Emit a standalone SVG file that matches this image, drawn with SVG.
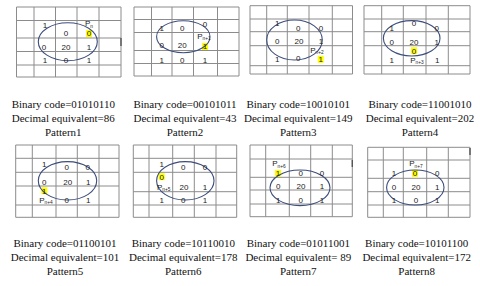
<svg xmlns="http://www.w3.org/2000/svg" width="480" height="286" viewBox="0 0 480 286">
<style>
.g{stroke:#8c8c8c;stroke-width:1;fill:none}
.t{stroke:#555;stroke-width:1.4;fill:none}
.e{stroke:#3d4d7c;stroke-width:1.1;fill:none}
.d{font-family:"Liberation Sans",Arial,sans-serif;font-size:8px;fill:#222;text-anchor:middle}
.s{font-size:4.8px}
.h{fill:#ffff00}
.l{font-family:"Liberation Serif","Times New Roman",serif;font-size:11px;fill:#111;text-anchor:middle}
</style>
<rect width="480" height="286" fill="#ffffff"/>

<g id="pattern1">
<path class="g" d="M16.5 7V77M34 7V77M55.5 7V77M77 7V77M99 7V77M121 7V77M16.5 7H121M16.5 20.5H121M16.5 38H121M16.5 51.5H121M16.5 65H121M16.5 77H121"/>
<path class="t" d="M121 38V46"/>
<rect class="h" x="86" y="30" width="6" height="7"/>
<ellipse class="e" cx="67.8" cy="41.7" rx="29.5" ry="19"/>
<text class="d" x="45" y="28">1</text><text class="d" x="89" y="26.3">P<tspan class="s" dy="1.3">n</tspan></text>
<text class="d" x="66" y="36">0</text><text class="d" x="89" y="36">0</text>
<text class="d" x="44" y="49.7">0</text><text class="d" x="66" y="49.7">20</text><text class="d" x="89" y="49.7">1</text>
<text class="d" x="45" y="63">1</text><text class="d" x="66" y="63">0</text><text class="d" x="89" y="63">1</text>
<text class="l" x="63.3" y="108">Binary code=01010110</text>
<text class="l" x="63.3" y="122">Decimal equivalent=86</text>
<text class="l" x="63.3" y="135.5">Pattern1</text>
</g>

<g id="pattern2">
<path class="g" d="M134 7V76M151.5 7V76M172 7V76M193.5 7V76M217.5 7V76M239 7V76M134 7H239M134 19.5H239M134 32.5H239M134 50.5H239M134 63.5H239M134 76H239"/>
<rect class="h" x="202" y="43" width="6" height="7"/>
<ellipse class="e" cx="183.3" cy="36.7" rx="26.7" ry="16"/>
<text class="d" x="161.7" y="31.3">1</text><text class="d" x="182.3" y="31.3">0</text><text class="d" x="205" y="27">0</text>
<text class="d" x="204" y="38.8">P<tspan class="s" dy="1.3">n+1</tspan></text>
<text class="d" x="161.7" y="48">0</text><text class="d" x="182.3" y="48">20</text><text class="d" x="205" y="49.3">1</text>
<text class="d" x="161.7" y="63">1</text><text class="d" x="182.3" y="63">0</text><text class="d" x="205" y="63">1</text>
<text class="l" x="185" y="108">Binary code=00101011</text>
<text class="l" x="185" y="122">Decimal equivalent=43</text>
<text class="l" x="185" y="135.5">Pattern2</text>
</g>

<g id="pattern3">
<path class="g" d="M250 5.7V74M266.7 5.7V74M287.3 5.7V74M309 5.7V74M332.3 5.7V74M352.5 5.7V74M250 5.7H352.5M250 19H352.5M250 31.7H352.5M250 45.7H352.5M250 65.7H352.5M250 74H352.5"/>
<rect class="h" x="317.7" y="55.8" width="6" height="7"/>
<ellipse class="e" cx="294.5" cy="40" rx="27.8" ry="20"/>
<text class="d" x="277.3" y="26.3">1</text><text class="d" x="298.3" y="31.3">0</text><text class="d" x="321" y="31.3">0</text>
<text class="d" x="277.3" y="43.7">0</text><text class="d" x="299" y="43.7">20</text><text class="d" x="321" y="43.7">1</text>
<text class="d" x="317" y="52.5">P<tspan class="s" dy="1.3">n+2</tspan></text>
<text class="d" x="277.3" y="62.3">1</text><text class="d" x="298.3" y="61.3">0</text><text class="d" x="320.7" y="62.3">1</text>
<text class="l" x="298.3" y="108">Binary code=10010101</text>
<text class="l" x="298.3" y="122">Decimal equivalent=149</text>
<text class="l" x="298.3" y="135.5">Pattern3</text>
</g>

<g id="pattern4">
<path class="g" d="M364 5.7V74M381.7 5.7V74M403.3 5.7V74M426 5.7V74M448.3 5.7V74M470 5.7V74M364 5.7H470M364 19H470M364 31.7H470M364 45.7H470M364 65.7H470M364 74H470"/>
<rect class="h" x="411" y="47.2" width="6" height="7"/>
<ellipse class="e" cx="411.7" cy="38.3" rx="28.3" ry="17.7"/>
<text class="d" x="391.7" y="31.3">1</text><text class="d" x="414" y="26.3">0</text><text class="d" x="436.7" y="31.3">0</text>
<text class="d" x="391.7" y="44.7">0</text><text class="d" x="414" y="44.7">20</text><text class="d" x="436.7" y="44.7">1</text>
<text class="d" x="414" y="53.7">0</text>
<text class="d" x="391.7" y="63">1</text><text class="d" x="417" y="63">P<tspan class="s" dy="1.3">n+3</tspan></text><text class="d" x="437.3" y="63">1</text>
<text class="l" x="420" y="108">Binary code=11001010</text>
<text class="l" x="420" y="122">Decimal equivalent=202</text>
<text class="l" x="420" y="135.5">Pattern4</text>
</g>

<g id="pattern5">
<path class="g" d="M15.7 145V217.3M32.3 145V217.3M56 145V217.3M77.3 145V217.3M99 145V217.3M119 145V217.3M15.7 145H119M15.7 158.3H119M15.7 172.3H119M15.7 186H119M15.7 205H119M15.7 217.3H119"/>
<rect class="h" x="41.3" y="187.2" width="6" height="7"/>
<ellipse class="e" cx="67.5" cy="180.8" rx="29.2" ry="19.2"/>
<text class="d" x="44.3" y="167">1</text><text class="d" x="66.7" y="170.3">0</text><text class="d" x="87.7" y="170.3">0</text>
<text class="d" x="44.3" y="184.5">0</text><text class="d" x="67.7" y="184.5">20</text><text class="d" x="88.3" y="184.5">1</text>
<text class="d" x="44.3" y="193.7">1</text>
<text class="d" x="46" y="203">P<tspan class="s" dy="1.3">n+4</tspan></text><text class="d" x="66.7" y="203">0</text><text class="d" x="88.3" y="203">1</text>
<text class="l" x="65" y="247">Binary code=01100101</text>
<text class="l" x="65" y="261">Decimal equivalent=101</text>
<text class="l" x="65" y="275">Pattern5</text>
</g>

<g id="pattern6">
<path class="g" d="M133.3 145V217.3M149 145V217.3M172.7 145V217.3M194.3 145V217.3M216 145V217.3M236.7 145V217.3M133.3 145H236.7M133.3 158.3H236.7M133.3 172.3H236.7M133.3 191.7H236.7M133.3 205H236.7M133.3 217.3H236.7"/>
<rect class="h" x="158.7" y="173.2" width="6" height="7"/>
<ellipse class="e" cx="185.3" cy="180.8" rx="28.7" ry="19.2"/>
<text class="d" x="161.7" y="167">1</text><text class="d" x="183.3" y="170.3">0</text><text class="d" x="205" y="170.3">0</text>
<text class="d" x="161.7" y="179.7">0</text>
<text class="d" x="163.7" y="189.7">P<tspan class="s" dy="1.3">n+5</tspan></text><text class="d" x="184" y="189.7">20</text><text class="d" x="205" y="189.7">1</text>
<text class="d" x="161.7" y="203">1</text><text class="d" x="183.3" y="203">0</text><text class="d" x="205" y="203">1</text>
<text class="l" x="183.3" y="247">Binary code=10110010</text>
<text class="l" x="183.3" y="261">Decimal equivalent=178</text>
<text class="l" x="183.3" y="275">Pattern6</text>
</g>

<g id="pattern7">
<path class="g" d="M250 145V216.7M265.7 145V216.7M289.3 145V216.7M310.7 145V216.7M332.3 145V216.7M352.3 145V216.7M250 145H352.3M250 159H352.3M250 177.3H352.3M250 190H352.3M250 204H352.3M250 216.7H352.3"/>
<path class="t" d="M352.3 160V167"/>
<rect class="h" x="275" y="169.8" width="6" height="7"/>
<ellipse class="e" cx="300" cy="187.8" rx="30" ry="17.8"/>
<text class="d" x="279" y="166.3">P<tspan class="s" dy="1.3">n+6</tspan></text>
<text class="d" x="278" y="176.3">1</text><text class="d" x="300.7" y="176.3">0</text><text class="d" x="322" y="176.3">0</text>
<text class="d" x="278.3" y="189">0</text><text class="d" x="301" y="189">20</text><text class="d" x="322" y="189">1</text>
<text class="d" x="278.3" y="203">1</text><text class="d" x="300.7" y="203">0</text><text class="d" x="322" y="203">1</text>
<text class="l" x="298.3" y="247">Binary code=01011001</text>
<text class="l" x="298.3" y="261">Decimal equivalent= 89</text>
<text class="l" x="298.3" y="275">Pattern7</text>
</g>

<g id="pattern8">
<path class="g" d="M367.7 147.3V217.3M383.3 147.3V217.3M403.3 147.3V217.3M426.7 147.3V217.3M448.3 147.3V217.3M470 147.3V217.3M367.7 147.3H470M367.7 160H470M367.7 178.3H470M367.7 191.7H470M367.7 205H470M367.7 217.3H470"/>
<path class="t" d="M470 148V155"/>
<rect class="h" x="412" y="169.8" width="6" height="7"/>
<ellipse class="e" cx="415.3" cy="187.5" rx="28.7" ry="17.5"/>
<text class="d" x="416" y="166.3">P<tspan class="s" dy="1.3">n+7</tspan></text>
<text class="d" x="394" y="176.3">1</text><text class="d" x="415" y="176.3">0</text><text class="d" x="437.3" y="176.3">0</text>
<text class="d" x="394" y="189.7">0</text><text class="d" x="416" y="189.7">20</text><text class="d" x="437.3" y="189.7">1</text>
<text class="d" x="394" y="203">1</text><text class="d" x="416" y="203">0</text><text class="d" x="437.3" y="203">1</text>
<text class="l" x="416.7" y="247">Binary code=10101100</text>
<text class="l" x="416.7" y="261">Decimal equivalent=172</text>
<text class="l" x="416.7" y="275">Pattern8</text>
</g>
</svg>
